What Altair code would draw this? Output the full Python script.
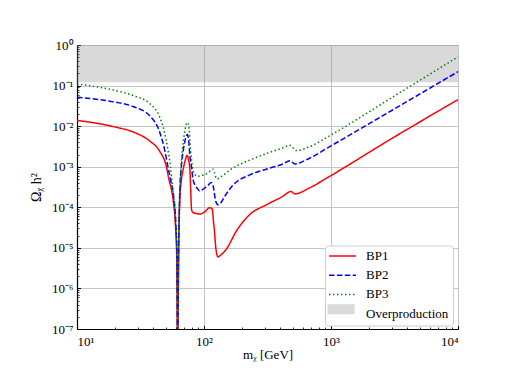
import json
import altair as alt
import pandas as pd

# ---------------- data ----------------
series_names = ["BP1", "BP2", "BP3", "Overproduction"]

bp1_m = [10, 15, 20, 28, 37.4, 44.8, 50.6, 53, 55.4, 57.5, 59.5, 61, 62, 63, 64.4, 66,
         68.5, 71, 73.5, 75.5, 77.4, 78.5, 79.7, 82, 86, 92.5, 101, 111, 116, 119, 121,
         123.5, 126, 129, 135, 150, 180, 229, 309, 417, 483, 519, 677, 972, 3055, 10000]
bp1_omega = [1.38e-2, 1.15e-2, 9.5e-3, 7.1e-3, 4.3e-3, 2.4e-3, 1.0e-3, 4.8e-4, 2.75e-4,
             1.3e-4, 4.0e-5, 6e-6, 1e-8, 5e-6, 1.3e-4, 4.0e-4, 8.5e-4, 1.4e-3, 1.9e-3,
             1.5e-3, 8.5e-4, 3.0e-4, 9.0e-5, 7.4e-5, 7.1e-5, 6.8e-5, 7.6e-5, 9.8e-5,
             9.1e-5, 4.2e-5, 2.5e-5, 1.1e-5, 7.0e-6, 6.0e-6, 6.6e-6, 9.3e-6, 2.6e-5,
             6.6e-5, 1.15e-4, 1.86e-4, 2.45e-4, 2.14e-4, 3.0e-4, 5.75e-4, 5.1e-3, 4.5e-2]

bp2_m = [10, 15, 20, 28, 37.4, 44.8, 49, 52, 54.5, 57.5, 60, 61.3, 62, 63, 64.5, 66.3,
         68.5, 71, 74, 76, 77.5, 79.7, 82, 86, 89.6, 92.5, 100, 108, 114, 117, 120, 123,
         129, 135, 145.6, 169, 229, 309, 417, 475, 519, 677, 972, 3055, 10000]
bp2_omega = [5.2e-2, 4.5e-2, 3.9e-2, 3.0e-2, 1.8e-2, 7.1e-3, 2.6e-3, 1.0e-3, 4.8e-4,
             2.0e-4, 4.0e-5, 5e-6, 1e-8, 5e-6, 2.5e-4, 1.0e-3, 2.4e-3, 4.5e-3, 6.2e-3,
             4.0e-3, 1.8e-3, 1.0e-3, 4.8e-4, 3.3e-4, 2.8e-4, 2.5e-4, 2.9e-4, 3.5e-4,
             4.1e-4, 3.8e-4, 2.5e-4, 1.5e-4, 1.15e-4, 1.26e-4, 1.86e-4, 3.5e-4, 6.3e-4,
             8.7e-4, 1.17e-3, 1.41e-3, 1.17e-3, 1.62e-3, 3.1e-3, 2.5e-2, 2.2e-1]

bp3_m = [10, 15, 20, 28, 37.4, 44.8, 49, 52, 54.5, 56.5, 59.5, 61.3, 62, 63, 63.5, 65,
         66.3, 68, 69.6, 71.5, 73.6, 76, 78, 81, 84.5, 89.6, 92.5, 100, 107.6, 118, 121,
         126, 135, 169, 229, 309, 417, 475, 532, 677, 972, 3055, 10000]
bp3_omega = [1.1e-1, 9.1e-2, 7.6e-2, 5.6e-2, 3.6e-2, 1.66e-2, 6.8e-3, 2.6e-3, 1.0e-3,
             3.2e-4, 5.0e-5, 5e-6, 1e-8, 5e-6, 3.2e-5, 4.0e-4, 1.23e-3, 3.2e-3, 5.6e-3,
             9.3e-3, 1.23e-2, 1.0e-2, 3.2e-3, 1.0e-3, 6.5e-4, 5.75e-4, 6.0e-4, 6.3e-4,
             7.1e-4, 8.7e-4, 7.1e-4, 5.0e-4, 5.6e-4, 9.3e-4, 1.45e-3, 2.1e-3, 2.9e-3,
             3.4e-3, 2.5e-3, 3.1e-3, 5.75e-3, 5.2e-2, 5.1e-1]

band_label = ["Overproduction"]
band_lo = [0.12]
band_hi = [1.0]
band_x0 = [10]
band_x1 = [10000]

x_ticks = [10, 100, 1000, 10000]
x_tick_labels = ["10¹", "10²", "10³", "10⁴"]
y_ticks = [1e-7, 1e-6, 1e-5, 1e-4, 1e-3, 1e-2, 1e-1, 1.0]
y_tick_labels = ["10⁻⁷", "10⁻⁶", "10⁻⁵", "10⁻⁴", "10⁻³", "10⁻²", "10⁻¹", "10⁰"]

line_colors = ["#ff0000", "#0000ff", "#008000", "rgba(0,0,0,0)"]
line_dashes = [[1, 0], [5.5, 2.4], [1.5, 2.5], [1, 0]]

# ---------------- tables ----------------
rows = []
for name, ms, os in [("BP1", bp1_m, bp1_omega), ("BP2", bp2_m, bp2_omega), ("BP3", bp3_m, bp3_omega)]:
    for m, o in zip(ms, os):
        rows.append({"m": m, "omega": o, "series": name})
df = pd.DataFrame(rows)
band_df = pd.DataFrame({"label": band_label, "x0": band_x0, "x1": band_x1, "lo": band_lo, "hi": band_hi})

minor_x = [k * 10 ** e for e in range(1, 4) for k in range(2, 10)]
minor_y = [k * 10.0 ** e for e in range(-7, 0) for k in range(2, 10)]

FONT = "Liberation Serif"
xscale = alt.Scale(type="log", domain=[10, 10000], nice=False)
yscale = alt.Scale(type="log", domain=[1e-7, 1], nice=False)

x_expr = f"{json.dumps(x_tick_labels, ensure_ascii=False)}[indexof({json.dumps(x_ticks)}, datum.value)]"
y_expr = f"{json.dumps(y_tick_labels, ensure_ascii=False)}[indexof({json.dumps(y_ticks)}, datum.value)]"

# legend for the lines (box, four labels; the 4th symbol is transparent)
legend_lines = alt.Legend(
    orient="none", legendX=248, legendY=200.5, title=None, zindex=1,
    fillColor="white", strokeColor="#cccccc", cornerRadius=3, padding=4,
    labelFont=FONT, labelFontSize=13, labelColor="black", labelOffset=24,
    symbolType="M-4.8,0H15.2", symbolSize=7.29, rowPadding=5.2,
)
# legend patch for the band, drawn over the 4th entry of the box
legend_band = alt.Legend(
    orient="none", legendX=252, legendY=259.2, title=None, zindex=2,
    padding=0, labelExpr="''", symbolOpacity=0.3, symbolStrokeWidth=0,
    symbolType="M-4.8,-3.7H15.2V3.7H-4.8Z", symbolSize=7.29,
)

# layer 1: band with labelled axes, grid and spines
band = alt.Chart(band_df).mark_rect(opacity=0.3).encode(
    x=alt.X("x0:Q", scale=xscale, axis=alt.Axis(
        orient="bottom", values=x_ticks, labelExpr=x_expr, grid=True, gridColor="#c4c4c4",
        gridWidth=1, ticks=False, tickSize=0, domain=True, domainColor="black", domainWidth=1.2,
        labelFont=FONT, labelFontSize=13, labelColor="black", labelPadding=6,
        title="mᵪ [GeV]", titleFont=FONT, titleFontSize=13, titleFontWeight="normal",
        titleColor="black", titleBaseline="alphabetic", titleY=29)),
    x2="x1:Q",
    y=alt.Y("lo:Q", scale=yscale, axis=alt.Axis(
        orient="left", values=y_ticks, labelExpr=y_expr, grid=True, gridColor="#c4c4c4",
        gridWidth=1, ticks=False, tickSize=0, domain=True, domainColor="black", domainWidth=1.2,
        labelFont=FONT, labelFontSize=13, labelColor="black", labelPadding=4,
        title="Ωᵪ h²", titleFont=FONT, titleFontSize=14, titleFontWeight="normal",
        titleColor="black", titlePadding=8)),
    y2="hi:Q",
    fill=alt.Fill("label:N", scale=alt.Scale(domain=band_label, range=["gray"]), legend=legend_band),
)

lines = alt.Chart(df).mark_line(clip=True, strokeWidth=1.5, interpolate="monotone").encode(
    x=alt.X("m:Q", scale=xscale, axis=alt.Axis(
        orient="bottom", values=x_ticks, labels=False, grid=False, domain=False,
        ticks=True, tickSize=3.5, offset=-3.5, tickColor="black", tickWidth=1, title=None)),
    y=alt.Y("omega:Q", scale=yscale, axis=alt.Axis(
        orient="left", values=y_ticks, labels=False, grid=False, domain=False,
        ticks=True, tickSize=3.5, offset=-3.5, tickColor="black", tickWidth=1, title=None)),
    color=alt.Color("series:N", scale=alt.Scale(domain=series_names, range=line_colors), legend=legend_lines),
    strokeDash=alt.StrokeDash("series:N", scale=alt.Scale(domain=series_names, range=line_dashes), legend=legend_lines),
)

minor = alt.Chart(band_df).mark_rule(opacity=0).encode(
    x=alt.X("x0:Q", scale=xscale, axis=alt.Axis(
        orient="bottom", values=minor_x, labels=False, grid=False, domain=False,
        ticks=True, tickSize=2, offset=-2, tickColor="black", tickWidth=0.8, title=None)),
    y=alt.Y("lo:Q", scale=yscale, axis=alt.Axis(
        orient="left", values=minor_y, labels=False, grid=False, domain=False,
        ticks=True, tickSize=2, offset=-2, tickColor="black", tickWidth=0.8, title=None)),
)

chart = alt.layer(band, lines, minor).resolve_axis(
    x="independent", y="independent"
).resolve_legend(
    color="independent", fill="independent", strokeDash="independent"
).properties(
    width=381, height=284,
    autosize=alt.AutoSizeParams(type="none"),
    padding={"left": 69, "top": 37, "right": 50, "bottom": 33},
).configure_view(stroke="#444444", strokeWidth=1)

chart.save("out.html", embed_options={"renderer": "svg", "actions": False})
